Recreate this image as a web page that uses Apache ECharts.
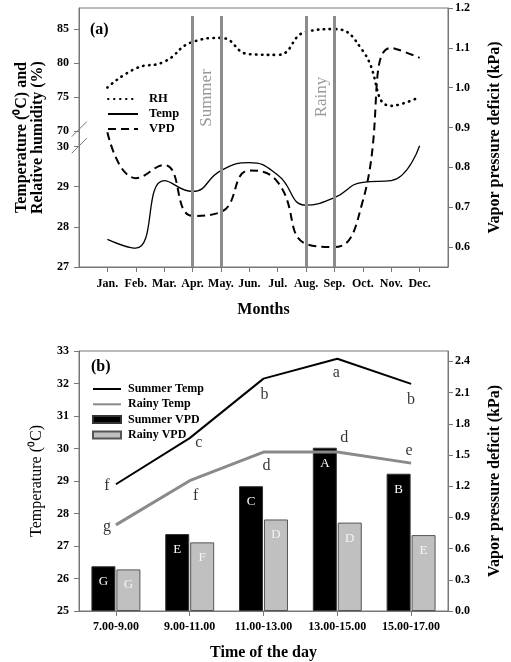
<!DOCTYPE html>
<html>
<head>
<meta charset="utf-8">
<script src="https://cdn.jsdelivr.net/npm/echarts@6/dist/echarts.min.js"></script>
<style>html,body{margin:0;padding:0;background:#fff;}#c{width:511px;height:662px;}</style>
</head>
<body>
<div id="c"></div>
<script>
// ---------- Panel (a) data ----------
const months = ['Jan.','Feb.','Mar.','Apr.','May.','Jun.','Jul.','Aug.','Sep.','Oct.','Nov.','Dec.'];
const monthNumbers = [1,2,3,4,5,6,7,8,9,10,11,12];
const rhValues   = [76.4, 79.2, 80.2, 83.1, 83.7, 81.3, 81.2, 84.6, 85.0, 81.8, 73.7, 75.0];
const tempValues = [27.69, 27.47, 29.15, 28.88, 29.40, 29.60, 29.29, 28.54, 28.73, 29.11, 29.15, 30.02];
const vpdValues  = [0.888, 0.773, 0.806, 0.678, 0.688, 0.792, 0.763, 0.608, 0.600, 0.716, 1.100, 1.075];
const seasonBoundaryMonths = [4, 5, 8, 9];
const tempTicksA = [27, 28, 29, 30];
const rhTicksA = [70, 75, 80, 85];
const vpdTicksA = [0.6, 0.7, 0.8, 0.9, 1.0, 1.1, 1.2];

// ---------- Panel (b) data ----------
const timeSlots = ['7.00-9.00','9.00-11.00','11.00-13.00','13.00-15.00','15.00-17.00'];
const summerTemp = [28.90, 30.32, 32.15, 32.76, 31.99];
const rainyTemp  = [27.65, 29.01, 29.89, 29.89, 29.55];
const summerVpd  = [0.43, 0.74, 1.20, 1.57, 1.32];
const rainyVpd   = [0.40, 0.66, 0.88, 0.85, 0.73];
const summerTempLetters = ['f','c','b','a','b'];
const rainyTempLetters  = ['g','f','d','d','e'];
const summerVpdLetters  = ['G','E','C','A','B'];
const rainyVpdLetters   = ['G','F','D','D','E'];
const vpdTicksB = [0, 0.3, 0.6, 0.9, 1.2, 1.5, 1.8, 2.1, 2.4];

// label offsets (styling only)
const summerLetterOffsets = [[-9,2],[9,5],[1,16],[-1,14],[0,16]];
const rainyLetterOffsets  = [[-9,2],[6,15],[3,14],[7,-14],[-2,-12]];

const FONT = '"Liberation Serif", "Times New Roman", serif';
const AX = '#777';
const HIDE_SYMBOL = {opacity:0};

const chart = echarts.init(document.getElementById('c'), null, {renderer:'canvas'});

function tickLabel(extra){
  return Object.assign({color:'#000', fontFamily:FONT, fontWeight:'bold', fontSize:12}, extra||{});
}

const option = {
  animation: false,
  backgroundColor: '#fff',
  textStyle: {fontFamily: FONT},
  title: [
    {text:'(a)', left:85, top:17, textStyle:{fontFamily:FONT, fontWeight:'bold', fontSize:16, color:'#000'}},
    {text:'(b)', left:86, top:354, textStyle:{fontFamily:FONT, fontWeight:'bold', fontSize:16, color:'#000'}}
  ],
  legend: [
    {
      data:[{name:'RH', itemStyle:HIDE_SYMBOL},{name:'Temp', itemStyle:HIDE_SYMBOL},{name:'VPD', itemStyle:HIDE_SYMBOL}],
      left:102, top:87, orient:'vertical',
      itemWidth:30, itemHeight:8, itemGap:1, selectedMode:false,
      textStyle:{fontFamily:FONT, fontWeight:'bold', fontSize:12.5, color:'#000', lineHeight:14, padding:[0,0,0,6]}
    },
    {
      data:[{name:'Summer Temp', itemStyle:HIDE_SYMBOL},{name:'Rainy Temp', itemStyle:HIDE_SYMBOL},{name:'Summer VPD', icon:'rect'},{name:'Rainy VPD', icon:'rect'}],
      left:87, top:377, orient:'vertical',
      itemWidth:28, itemHeight:7, itemGap:1.3, selectedMode:false,
      textStyle:{fontFamily:FONT, fontWeight:'bold', fontSize:12, color:'#000', lineHeight:14, padding:[0,0,0,2]}
    }
  ],
  grid: [
    {left:79, top:8, width:371, height:259, show:true, borderColor:AX, borderWidth:1, backgroundColor:'transparent'},
    {left:79, top:351, width:371, height:260, show:true, borderColor:AX, borderWidth:1, backgroundColor:'transparent'}
  ],
  xAxis: [
    {
      type:'value', gridIndex:0, min:0, max:13,
      axisLine:{show:true, lineStyle:{color:AX}},
      axisTick:{show:true, customValues:monthNumbers, length:5, lineStyle:{color:AX}},
      axisLabel:Object.assign(tickLabel({margin:11}), {customValues:monthNumbers, formatter:v => months[Math.round(v)-1]}),
      splitLine:{show:false},
      name:'Months', nameLocation:'middle', nameGap:35,
      nameTextStyle:{fontFamily:FONT, fontWeight:'bold', fontSize:16, color:'#000'}
    },
    {
      type:'category', gridIndex:1, data:timeSlots, boundaryGap:true,
      axisLine:{show:true, lineStyle:{color:AX}},
      axisTick:{show:true, alignWithLabel:true, length:5, lineStyle:{color:AX}},
      axisLabel:tickLabel({margin:10, interval:0}),
      splitLine:{show:false},
      name:'Time of the day', nameLocation:'middle', nameGap:34,
      nameTextStyle:{fontFamily:FONT, fontWeight:'bold', fontSize:16, color:'#000'}
    }
  ],
  yAxis: [
    { // 0: temperature, panel a
      type:'value', gridIndex:0, position:'left', min:27, max:33.45,
      axisLine:{show:true, lineStyle:{color:AX}},
      axisTick:{show:true, customValues:tempTicksA, length:5, lineStyle:{color:AX}},
      axisLabel:Object.assign(tickLabel({margin:10}), {customValues:tempTicksA}),
      splitLine:{show:false},
      name:'Temperature (\u2070C) and\nRelative humidity (%)', nameLocation:'middle', nameRotate:90, nameGap:33,
      nameTextStyle:{fontFamily:FONT, fontWeight:'bold', fontSize:16, color:'#000', lineHeight:16, align:'center'}
    },
    { // 1: RH, panel a
      type:'value', gridIndex:0, position:'left', min:50, max:88.1,
      axisLine:{show:false},
      axisTick:{show:true, customValues:rhTicksA, length:5, lineStyle:{color:AX}},
      axisLabel:Object.assign(tickLabel({margin:10}), {customValues:rhTicksA}),
      splitLine:{show:false}
    },
    { // 2: VPD, panel a
      type:'value', gridIndex:0, position:'right', min:0.55, max:1.2,
      axisLine:{show:true, lineStyle:{color:AX}},
      axisTick:{show:true, customValues:vpdTicksA, length:5, lineStyle:{color:AX}},
      axisLabel:Object.assign(tickLabel({margin:7}), {customValues:vpdTicksA, formatter:v => v.toFixed(1)}),
      splitLine:{show:false},
      name:'Vapor pressure deficit (kPa)', nameLocation:'middle', nameRotate:90, nameGap:39,
      nameTextStyle:{fontFamily:FONT, fontWeight:'bold', fontSize:16, color:'#000'}
    },
    { // 3: temperature, panel b
      type:'value', gridIndex:1, position:'left', min:25, max:33, interval:1,
      axisLine:{show:true, lineStyle:{color:AX}},
      axisTick:{show:true, length:5, lineStyle:{color:AX}},
      axisLabel:tickLabel({margin:10}),
      splitLine:{show:false},
      name:'Temperature (\u2070C)', nameLocation:'middle', nameRotate:90, nameGap:34,
      nameTextStyle:{fontFamily:FONT, fontWeight:'normal', fontSize:16, color:'#000'}
    },
    { // 4: VPD, panel b
      type:'value', gridIndex:1, position:'right', min:0, max:2.5,
      axisLine:{show:true, lineStyle:{color:AX}},
      axisTick:{show:true, customValues:vpdTicksB, length:5, lineStyle:{color:AX}},
      axisLabel:Object.assign(tickLabel({margin:7}), {customValues:vpdTicksB, formatter:v => v.toFixed(1)}),
      splitLine:{show:false},
      name:'Vapor pressure deficit (kPa)', nameLocation:'middle', nameRotate:90, nameGap:39,
      nameTextStyle:{fontFamily:FONT, fontWeight:'bold', fontSize:16, color:'#000'}
    }
  ],
  series: [
    {
      name:'RH', type:'line', xAxisIndex:0, yAxisIndex:1,
      data: rhValues.map((v,i) => [monthNumbers[i], v]),
      smooth:0.5, symbol:'none',
      lineStyle:{color:'#000', width:2.6, type:[0.5,5.5], cap:'round'},
      itemStyle:{color:'#000'}
    },
    {
      name:'Temp', type:'line', xAxisIndex:0, yAxisIndex:0,
      data: tempValues.map((v,i) => [monthNumbers[i], v]),
      smooth:0.5, symbol:'none',
      lineStyle:{color:'#000', width:1.3},
      itemStyle:{color:'#000'},
      markLine:{
        silent:true, symbol:['none','none'], label:{show:false},
        lineStyle:{color:'#8c8c8c', width:3, type:'solid'},
        emphasis:{disabled:true},
        data: seasonBoundaryMonths.map(m => [{coord:[m, 27]}, {coord:[m, 33.25]}])
      }
    },
    {
      name:'VPD', type:'line', xAxisIndex:0, yAxisIndex:2,
      data: vpdValues.map((v,i) => [monthNumbers[i], v]),
      smooth:0.5, symbol:'none',
      lineStyle:{color:'#000', width:2, type:[8,5]},
      itemStyle:{color:'#000'}
    },
    {
      name:'Summer Temp', type:'line', xAxisIndex:1, yAxisIndex:3,
      data: summerTemp, symbol:'none',
      lineStyle:{color:'#000', width:2}, itemStyle:{color:'#000'}
    },
    {
      name:'Rainy Temp', type:'line', xAxisIndex:1, yAxisIndex:3,
      data: rainyTemp, symbol:'none',
      lineStyle:{color:'#8a8a8a', width:3}, itemStyle:{color:'#8a8a8a'}
    },
    {
      name:'Summer VPD', type:'bar', xAxisIndex:1, yAxisIndex:4,
      data: summerVpd, barWidth:24, barGap:'4%',
      itemStyle:{color:'#000', borderColor:'#333', borderWidth:1},
      label:{show:true, position:'insideTop', distance:9, color:'#fff', fontFamily:FONT, fontSize:13,
             formatter:p => summerVpdLetters[p.dataIndex]}
    },
    {
      name:'Rainy VPD', type:'bar', xAxisIndex:1, yAxisIndex:4,
      data: rainyVpd, barWidth:24, barGap:'4%',
      itemStyle:{color:'#c0c0c0', borderColor:'#555', borderWidth:1},
      label:{show:true, position:'insideTop', distance:9, color:'#f4f4f4', fontFamily:FONT, fontSize:13,
             formatter:p => rainyVpdLetters[p.dataIndex]}
    },
    {
      name:'summerLetters', type:'scatter', xAxisIndex:1, yAxisIndex:3,
      symbolSize:1, itemStyle:{color:'rgba(0,0,0,0)'}, silent:true, z:5,
      data: summerTemp.map((v,i) => ({value:v, label:{offset:summerLetterOffsets[i]}})),
      label:{show:true, position:'inside', color:'#000', fontFamily:FONT, fontSize:16, align:'center', verticalAlign:'middle',
             formatter:p => summerTempLetters[p.dataIndex]}
    },
    {
      name:'rainyLetters', type:'scatter', xAxisIndex:1, yAxisIndex:3,
      symbolSize:1, itemStyle:{color:'rgba(0,0,0,0)'}, silent:true, z:5,
      data: rainyTemp.map((v,i) => ({value:v, label:{offset:rainyLetterOffsets[i]}})),
      label:{show:true, position:'inside', color:'#000', fontFamily:FONT, fontSize:16, align:'center', verticalAlign:'middle',
             formatter:p => rainyTempLetters[p.dataIndex]}
    }
  ],
  graphic: [
    {type:'text', x:207, y:98, rotation:Math.PI/2, silent:true,
     style:{text:'Summer', fill:'#999', font:'17px ' + FONT, align:'center', verticalAlign:'middle'}},
    {type:'text', x:321.5, y:97, rotation:Math.PI/2, silent:true,
     style:{text:'Rainy', fill:'#999', font:'17px ' + FONT, align:'center', verticalAlign:'middle'}},
    {type:'line', silent:true, shape:{x1:71.7, y1:136.7, x2:86.7, y2:121.7}, style:{stroke:AX, lineWidth:1}},
    {type:'line', silent:true, shape:{x1:71.7, y1:153.3, x2:86.7, y2:138.3}, style:{stroke:AX, lineWidth:1}}
  ]
};
chart.setOption(option);
</script>
</body>
</html>
